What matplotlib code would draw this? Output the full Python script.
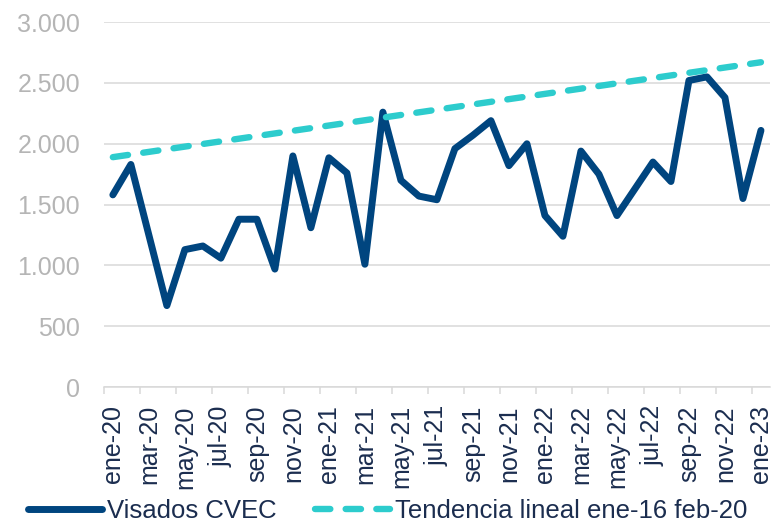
import numpy as np
import matplotlib
matplotlib.use("Agg")
import matplotlib.pyplot as plt
from matplotlib.lines import Line2D

plt.rcParams['font.family'] = ['Liberation Sans', 'DejaVu Sans']

# === Data ===
months = ['ene', 'feb', 'mar', 'abr', 'may', 'jun', 'jul', 'ago', 'sep', 'oct', 'nov', 'dic']
labels = [f"{m}-{y}" for y in ['20', '21', '22'] for m in months] + ['ene-23']

visados = [1580, 1830, 1250, 670, 1130, 1160, 1060, 1380, 1380, 970, 1900, 1310,
           1885, 1760, 1010, 2260, 1700, 1570, 1540, 1960, 2070, 2190, 1820, 2000,
           1410, 1240, 1940, 1750, 1410, 1630, 1850, 1690, 2520, 2550, 2380, 1550,
           2110]

# linear trend (ene-16 to feb-20 fit), values at first and last month
trend_x = [0, 36]
trend_vals = [1890, 2670]

y_ticks = [0, 500, 1000, 1500, 2000, 2500, 3000]
y_tick_labels = ['0', '500', '1.000', '1.500', '2.000', '2.500', '3.000']

navy = '#00457F'
teal = '#2DCCCD'
text_navy = '#1B2D4F'
grey_txt = '#B5B5B5'
grid_col = '#D9D9D9'

# === Figure ===
fig = plt.figure(figsize=(7.75, 5.26), dpi=100)
ax = fig.add_axes([0.134, 0.264, 0.8595, 0.694])

x = np.arange(len(visados))
ax.plot(x, visados, color=navy, lw=5.0, solid_joinstyle='round',
        solid_capstyle='round', zorder=3)
ax.plot(trend_x, trend_vals, color=teal, lw=4.6, linestyle=(0, (2.4, 2.4)),
        dash_capstyle='round', zorder=4)

ax.set_xlim(-0.5, len(visados) - 0.5)
ax.set_ylim(0, 3000)

ax.set_yticks(y_ticks)
ax.set_yticklabels(y_tick_labels)
ax.tick_params(axis='y', length=0, pad=17, labelsize=18, labelcolor=grey_txt)
ax.yaxis.grid(True, color=grid_col, lw=1.1)
ax.set_axisbelow(True)

ax.set_xticks(x[::2])
ax.set_xticklabels(labels[::2], rotation=90)
ax.set_xticks(np.arange(-0.5, len(visados) - 1, 2), minor=True)
ax.tick_params(axis='x', which='major', length=0, pad=13, labelsize=18,
               labelcolor=text_navy)
ax.tick_params(axis='x', which='minor', length=5, width=1.1, color=grid_col)

for s in ['left', 'top', 'right']:
    ax.spines[s].set_visible(False)
ax.spines['bottom'].set_color(grid_col)
ax.spines['bottom'].set_linewidth(1.1)

handles = [
    Line2D([], [], color=navy, lw=5.0, solid_capstyle='round'),
    Line2D([], [], color=teal, lw=4.6, linestyle=(0, (2.4, 2.4)), dash_capstyle='round'),
]
leg = fig.legend(handles, ['Visados CVEC', 'Tendencia lineal ene-16 feb-20'],
                 loc='center', bbox_to_anchor=(0.5, 0.028), ncol=2, frameon=False,
                 fontsize=18.5, handlelength=2.9, handletextpad=0.2,
                 columnspacing=1.5, borderpad=0, borderaxespad=0)
for t in leg.get_texts():
    t.set_color(text_navy)

fig.savefig('out.png', dpi=100)
